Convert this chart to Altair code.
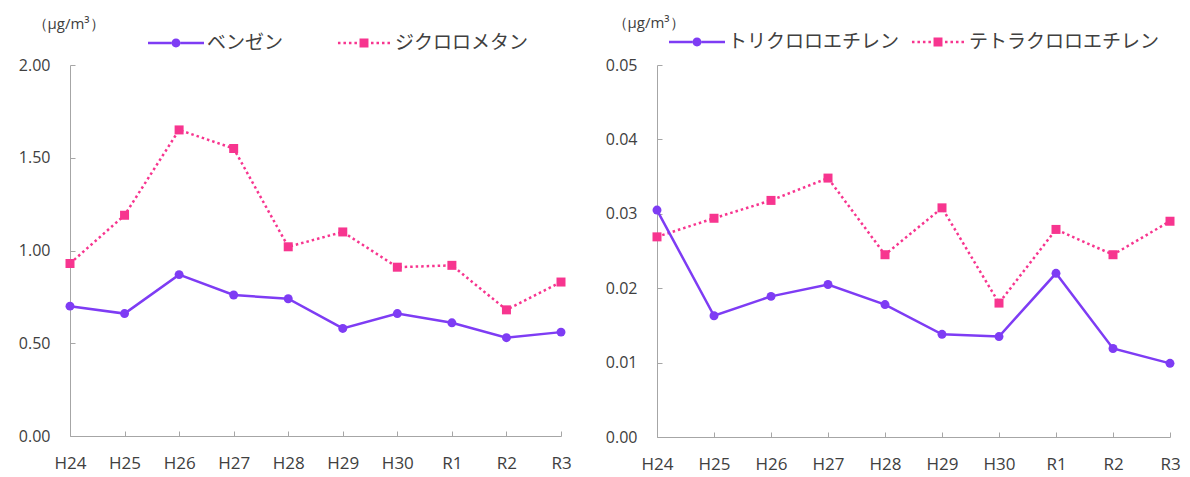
import altair as alt
import pandas as pd

# ---------------- data ----------------
years = ["H24", "H25", "H26", "H27", "H28", "H29", "H30", "R1", "R2", "R3"]

left_series = ["ベンゼン", "ジクロロメタン"]
benzene = [0.70, 0.66, 0.87, 0.76, 0.74, 0.58, 0.66, 0.61, 0.53, 0.56]
dichloromethane = [0.93, 1.19, 1.65, 1.55, 1.02, 1.10, 0.91, 0.92, 0.68, 0.83]
left_ticks = [0.0, 0.5, 1.0, 1.5, 2.0]

right_series = ["トリクロロエチレン", "テトラクロロエチレン"]
trichloroethylene = [0.0305, 0.0163, 0.0189, 0.0205, 0.0178, 0.0138, 0.0135, 0.0220, 0.0119, 0.0099]
tetrachloroethylene = [0.0269, 0.0294, 0.0318, 0.0348, 0.0245, 0.0308, 0.0180, 0.0279, 0.0245, 0.0290]
right_ticks = [0.0, 0.01, 0.02, 0.03, 0.04, 0.05]

unit_label = "（μg/m³）"

# ---------------- style ----------------
PURPLE = "#7E3CF4"
PINK = "#F7358F"
AXIS_GRAY = "#A6A6A6"
TEXT = "#404040"
FONT = "Open Sans"
JP_FONT = "Noto Sans CJK JP"

LEG_SIZE = 3136  # 56 px symbol box -> 1 path unit = 28 px


def solid_path():
    t, r = 0.045, 0.16
    return (f"M-1,-{t}H-{r}V{t}H-1Z M{r},-{t}H1V{t}H{r}Z "
            f"M-{r},0A{r},{r} 0 1,1 {r},0A{r},{r} 0 1,1 -{r},0Z")


def dotted_path():
    t, q, step = 0.045, 0.16, 0.196
    parts = []
    for i in range(4):
        x = -0.93 + i * step
        parts.append(f"M{x:.3f},-{t}h0.09v0.09h-0.09Z")
        x2 = 0.25 + i * step
        parts.append(f"M{x2:.3f},-{t}h0.09v0.09h-0.09Z")
    parts.append(f"M-{q},-{q}H{q}V{q}H-{q}Z")
    return " ".join(parts)


SOLID = solid_path()
DOTTED = dotted_path()


def panel(series, values_a, values_b, ticks, width, height, title_x, title_y,
          legend_x, legend_y, col_pad):
    df = pd.DataFrame({
        "year": years * 2,
        "series": [series[0]] * len(years) + [series[1]] * len(years),
        "value": list(values_a) + list(values_b),
    })
    ydom = [ticks[0], ticks[-1]]
    xscale = alt.Scale(domain=years, padding=0)
    yscale = alt.Scale(domain=ydom, nice=False, zero=True)

    main_x_axis = alt.Axis(labelAngle=0, ticks=False, labelPadding=19, domainColor=AXIS_GRAY,
                           labelFont=FONT, labelFontSize=17, labelColor=TEXT, grid=False,
                           title=None)
    main_y_axis = alt.Axis(values=ticks, format=".2f", ticks=False, labelPadding=20,
                           domainColor=AXIS_GRAY, labelFont=FONT, labelFontSize=16,
                           labelColor=TEXT, grid=False, title=unit_label, titleAngle=0,
                           titleAlign="left", titleBaseline="middle", titleX=title_x,
                           titleY=title_y, titleFont=FONT, titleFontSize=15,
                           titleFontWeight="normal", titleColor=TEXT,
                           minExtent=57, maxExtent=57)

    base = alt.Chart(df)
    line_a = base.transform_filter(alt.datum.series == series[0]).mark_line(
        color=PURPLE, strokeWidth=2.5).encode(
        x=alt.X("year:N", scale=xscale, sort=years, axis=main_x_axis),
        y=alt.Y("value:Q", scale=yscale, axis=main_y_axis),
    )
    line_b = base.transform_filter(alt.datum.series == series[1]).mark_line(
        color=PINK, strokeWidth=2.5, strokeDash=[2.5, 3]).encode(
        x=alt.X("year:N", scale=xscale, sort=years, axis=None),
        y=alt.Y("value:Q", scale=yscale, axis=None),
    )
    pts_a = base.transform_filter(alt.datum.series == series[0]).mark_point(
        filled=True, opacity=1, shape="circle", size=80, color=PURPLE).encode(
        x=alt.X("year:N", scale=xscale, sort=years, axis=None),
        y=alt.Y("value:Q", scale=yscale, axis=None),
    )
    pts_b = base.transform_filter(alt.datum.series == series[1]).mark_point(
        filled=True, opacity=1, shape="square", size=81, color=PINK).encode(
        x=alt.X("year:N", scale=xscale, sort=years, axis=None),
        y=alt.Y("value:Q", scale=yscale, axis=None),
    )

    leg = alt.Legend(orient="none", legendX=legend_x, legendY=legend_y, direction="horizontal",
                     columns=2, title=None, labelFont=JP_FONT, labelFontSize=19,
                     labelColor=TEXT, symbolSize=LEG_SIZE, symbolStrokeWidth=0,
                     labelOffset=3, columnPadding=col_pad, padding=0, labelLimit=400)
    legend_layer = base.transform_filter("false").mark_point(
        filled=True, opacity=1, size=LEG_SIZE).encode(
        x=alt.X("year:N", scale=xscale, sort=years,
                axis=alt.Axis(orient="top", offset=-height, labels=False, domain=False,
                              ticks=True, tickSize=5, tickColor=AXIS_GRAY, grid=False,
                              title=None, minExtent=0, maxExtent=0)),
        y=alt.Y("value:Q", scale=yscale,
                axis=alt.Axis(orient="right", offset=-width, values=ticks, labels=False,
                              domain=False, ticks=True, tickSize=5, tickColor=AXIS_GRAY,
                              grid=False, title=None, minExtent=0, maxExtent=0)),
        color=alt.Color("series:N", scale=alt.Scale(domain=series, range=[PURPLE, PINK]),
                        legend=leg),
        shape=alt.Shape("series:N", scale=alt.Scale(domain=series, range=[SOLID, DOTTED]),
                        legend=leg),
    )

    return alt.layer(line_b, line_a, pts_b, pts_a, legend_layer).resolve_axis(
        x="independent", y="independent").properties(width=width, height=height)


left = panel(left_series, benzene, dichloromethane, left_ticks, 491, 371,
             title_x=-38, title_y=-42, legend_x=78, legend_y=-50, col_pad=52)
right = panel(right_series, trichloroethylene, tetrachloroethylene, right_ticks, 513, 372,
              title_x=-45, title_y=-43, legend_x=12, legend_y=-51, col_pad=10)

chart = alt.hconcat(left, right, spacing=28).resolve_scale(
    color="independent", shape="independent", x="independent", y="independent"
).resolve_legend(color="independent", shape="independent").properties(
    padding={"left": 5, "top": 6, "right": 0, "bottom": 0},
    background="white",
).configure_view(stroke=None)

chart.save("out.html", embed_options={"renderer": "svg", "actions": False})
